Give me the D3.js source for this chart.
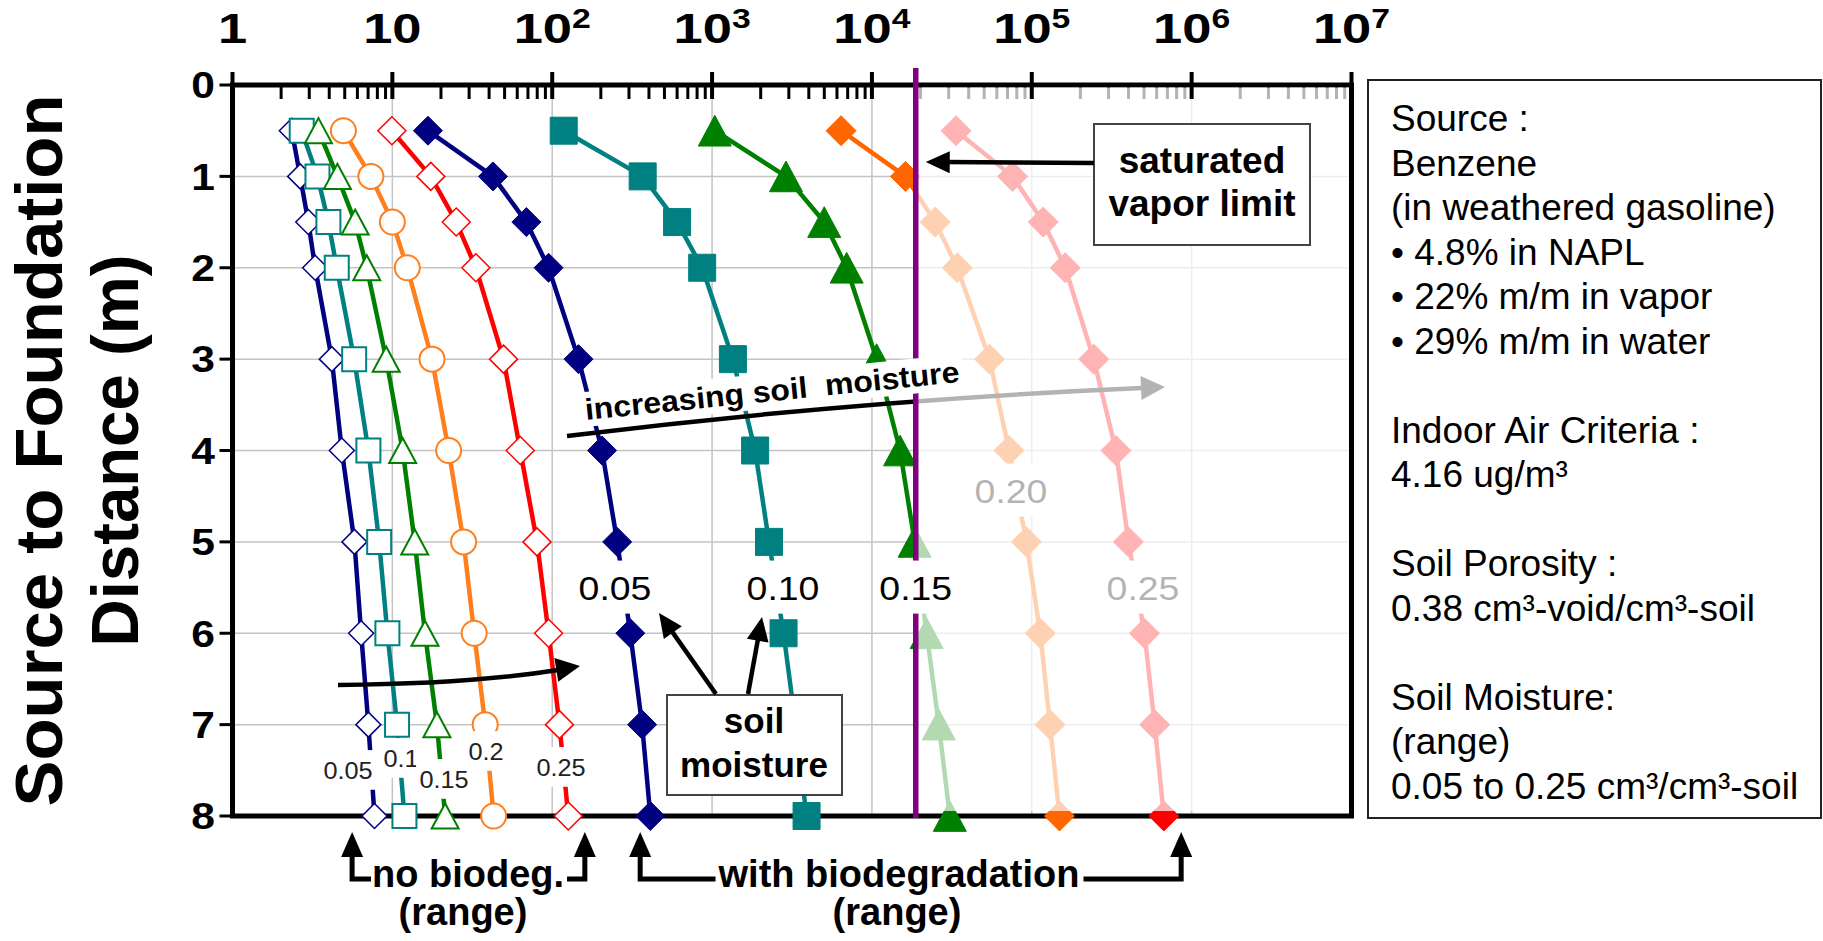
<!DOCTYPE html>
<html>
<head>
<meta charset="utf-8">
<style>
  body { margin: 0; background: #fff; }
  svg text { font-family: "Liberation Sans", Arial, Helvetica, sans-serif; }
</style>
</head>
<body>
<div id="chart"></div>
<script src="https://d3js.org/d3.v7.min.js"></script>
<script>
  // depths (m) below foundation for every profile
  var depths = [0.5, 1, 1.5, 2, 3, 4, 5, 6, 7, 8];

  // soil moisture cases (cm3/cm3)
  var moisture = ["0.05", "0.10", "0.15", "0.20", "0.25"];
  var moistureShort = ["0.05", "0.1", "0.15", "0.2", "0.25"];

  // source vapor concentration, no biodegradation
  var noBio005 = [2.35, 2.65, 2.98, 3.29, 4.18, 4.83, 5.79, 6.38, 7.08, 7.73];
  var noBio010 = [2.71, 3.40, 3.98, 4.49, 5.77, 7.08, 8.27, 9.31, 10.7, 11.9];
  var noBio015 = [3.45, 4.53, 5.85, 6.92, 9.15, 11.6, 13.8, 16.0, 19.0, 21.4];
  var noBio020 = [4.94, 7.34, 10.0, 12.4, 17.7, 22.5, 27.9, 32.5, 38.1, 43.0];
  var noBio025 = [9.93, 17.4, 25.1, 33.3, 49.6, 63.1, 80.3, 94.9, 111, 126];

  // source vapor concentration, with biodegradation
  var bio005 = [16.7, 42.6, 68.9, 94.9, 146, 205, 255, 308, 365, 411];
  var bio010 = [118, 368, 604, 867, 1350, 1860, 2270, 2800, 3330, 3900];
  var bio015 = [1040, 2900, 5030, 6950, 10700, 15000, 18500, 22000, 26200, 30700];
  var bio020 = [6410, 16200, 24900, 34200, 54400, 72000, 92500, 113000, 130000, 149000];
  var bio025 = [33600, 75800, 118000, 162000, 244000, 336000, 402000, 507000, 587000, 670000];

  var vaporLimit = 1.88e4;
  var noBioRange = [5.6, 160];
  var bioRange = [355, 8.6e5];

  var xTicks = [1, 10, 100, 1e3, 1e4, 1e5, 1e6, 1e7];
  var xTickLabels = [["1", ""], ["10", ""], ["10", "2"], ["10", "3"], ["10", "4"], ["10", "5"], ["10", "6"], ["10", "7"]];
  var yTicks = [0, 1, 2, 3, 4, 5, 6, 7, 8];

  var infoLines = ["Source :", "Benzene", "(in weathered gasoline)", "\u2022 4.8% in NAPL",
    "\u2022 22% m/m in vapor", "\u2022 29% m/m in water", "", "Indoor Air Criteria :",
    "4.16 ug/m\u00b3", "", "Soil Porosity :", "0.38 cm\u00b3-void/cm\u00b3-soil", "",
    "Soil Moisture:", "(range)", "0.05 to 0.25 cm\u00b3/cm\u00b3-soil"];

  // styles of the series (kept apart from the values)
  var noBioSeries = [
    { vals: noBio005, color: "#000080", shape: "diamond", r: 12.5, sw: 1.5 },
    { vals: noBio010, color: "#008080", shape: "square", r: 12, sw: 2 },
    { vals: noBio015, color: "#008000", shape: "triangle", r: 13.5, sw: 2 },
    { vals: noBio020, color: "#ff7f1e", shape: "circle", r: 12.5, sw: 2 },
    { vals: noBio025, color: "#ff0000", shape: "diamond", r: 14, sw: 1.5 }
  ];
  var bioSeries = [
    { vals: bio005, color: "#000080", shape: "diamond", r: 14.5 },
    { vals: bio010, color: "#008080", shape: "square", r: 13.5 },
    { vals: bio015, color: "#008000", shape: "triangle", r: 16.5 },
    { vals: bio020, color: "#ff6600", shape: "diamond", r: 15 },
    { vals: bio025, color: "#ff0000", shape: "diamond", r: 15 }
  ];

  var width = 1823, height = 941;
  var plotL = 232.5, plotR = 1351.5, plotT = 85, plotB = 816;

  var x = d3.scaleLog().domain([1, 1e7]).range([plotL, plotR]);
  var y = d3.scaleLinear().domain([0, 8]).range([plotT, plotB]);

  var svg = d3.select("#chart").append("svg")
    .attr("width", width)
    .attr("height", height);

  function shapePath(shape, r) {
    if (shape == "diamond") return "M0," + (-r) + "L" + r + ",0L0," + r + "L" + (-r) + ",0Z";
    if (shape == "square") return "M" + (-r) + "," + (-r) + "h" + 2 * r + "v" + 2 * r + "h" + (-2 * r) + "Z";
    if (shape == "triangle") return "M0," + (-r * 0.93) + "L" + r + "," + r * 0.93 + "L" + (-r) + "," + r * 0.93 + "Z";
    return "M" + (-r) + ",0a" + r + "," + r + " 0 1,0 " + 2 * r + ",0a" + r + "," + r + " 0 1,0 " + (-2 * r) + ",0";
  }

  // text helper: translate / rotate / horizontal stretch, optional white box behind
  function label(parent, str, px, py, o) {
    o = o || {};
    var tr = "translate(" + px + "," + py + ")";
    if (o.rot) tr += " rotate(" + o.rot + ")";
    if (o.sx) tr += " scale(" + o.sx + ",1)";
    var g = parent.append("g").attr("transform", tr);
    var t = g.append("text")
      .attr("text-anchor", o.anchor || "middle")
      .attr("dy", o.dy || 0)
      .style("font-size", o.size + "px")
      .style("font-weight", o.bold ? "bold" : "normal")
      .style("white-space", "pre")
      .attr("fill", o.fill || "#000")
      .text(str);
    if (o.len) t.attr("textLength", o.len).attr("lengthAdjust", "spacingAndGlyphs");
    if (o.bg) {
      var b = t.node().getBBox();
      g.insert("rect", "text")
        .attr("x", b.x - o.bg[0])
        .attr("y", b.y - o.bg[1])
        .attr("width", b.width + 2 * o.bg[0])
        .attr("height", b.height + o.bg[1] + o.bg[2])
        .attr("fill", "#fff");
    }
    return t;
  }

  function head(parent, tx, ty, dx, dy, len, hw, color) {
    var n = Math.sqrt(dx * dx + dy * dy);
    dx /= n;
    dy /= n;
    var bx = tx - dx * len, by = ty - dy * len;
    parent.append("path")
      .attr("d", "M" + tx + "," + ty + "L" + (bx - dy * hw) + "," + (by + dx * hw) +
        "L" + (bx + dy * hw) + "," + (by - dx * hw) + "Z")
      .attr("fill", color || "#000");
  }

  function arrow(parent, x1, y1, x2, y2) {
    var dx = x2 - x1, dy = y2 - y1, n = Math.sqrt(dx * dx + dy * dy);
    parent.append("line")
      .attr("x1", x1).attr("y1", y1)
      .attr("x2", x2 - dx / n * 20).attr("y2", y2 - dy / n * 20)
      .attr("stroke", "#000").attr("stroke-width", 4.5);
    head(parent, x2, y2, dx, dy, 24, 11);
  }

  //****************************
  //***** grid and axes *******
  //****************************
  var g = svg.append("g");

  g.selectAll(".vgrid")
    .data(xTicks.slice(1, -1))
    .enter().append("line")
    .attr("x1", function(d) { return x(d); })
    .attr("x2", function(d) { return x(d); })
    .attr("y1", plotT).attr("y2", plotB)
    .attr("stroke", "#c4c4c4").attr("stroke-width", 1.5);

  g.selectAll(".hgrid")
    .data(yTicks.slice(1, -1))
    .enter().append("line")
    .attr("x1", plotL).attr("x2", plotR)
    .attr("y1", function(d) { return y(d); })
    .attr("y2", function(d) { return y(d); })
    .attr("stroke", "#c4c4c4").attr("stroke-width", 1.5);

  // minor ticks hanging under the top axis
  var minor = x.ticks().filter(function(d) {
    return Math.abs(Math.log10(d) - Math.round(Math.log10(d))) > 1e-6;
  });
  g.append("g")
    .attr("transform", "translate(0," + plotT + ")")
    .call(d3.axisTop(x).tickValues(minor).tickSize(-14).tickFormat(""))
    .call(function(a) {
      a.select(".domain").remove();
      a.selectAll("line").attr("stroke", "#000").attr("stroke-width", 3);
    });

  // plot frame
  g.append("rect")
    .attr("x", plotL).attr("y", plotT)
    .attr("width", plotR - plotL).attr("height", plotB - plotT)
    .attr("fill", "none").attr("stroke", "#000").attr("stroke-width", 5);

  //****************************
  //***** series **************
  //****************************
  function drawSeries(s, open) {
    var line = d3.line()
      .x(function(d, i) { return x(s.vals[i]); })
      .y(function(d) { return y(d); });
    g.append("path")
      .datum(depths)
      .attr("d", line)
      .attr("fill", "none")
      .attr("stroke", s.color)
      .attr("stroke-width", 4.5)
      .attr("stroke-linejoin", "round");
    g.selectAll(null)
      .data(depths)
      .enter().append("path")
      .attr("transform", function(d, i) {
        return "translate(" + x(s.vals[i]) + "," + y(d) + ")";
      })
      .attr("d", shapePath(s.shape, s.r))
      .attr("fill", open ? "#fff" : s.color)
      .attr("stroke", s.color)
      .attr("stroke-width", open ? s.sw : 1);
  }
  noBioSeries.forEach(function(s) { drawSeries(s, true); });
  bioSeries.forEach(function(s) { drawSeries(s, false); });

  // labels that end up under the veil (they turn grey)
  label(g, moisture[3], 1011, 503, { size: 34, sx: 1.1, bg: [4, 9, 6] });
  label(g, moisture[4], 1143, 600, { size: 34, sx: 1.1, bg: [4, 9, 6] });

  // "increasing soil moisture" arrow, drawn before the veil
  g.append("path")
    .attr("d", "M567,436Q860,400 1142,388")
    .attr("fill", "none").attr("stroke", "#000").attr("stroke-width", 4.5);
  head(g, 1165, 387, 282, -12, 24, 12);

  // veil over everything beyond the saturated vapor limit
  g.append("rect")
    .attr("x", x(vaporLimit) + 1)
    .attr("y", plotT + 2.5)
    .attr("width", plotR - 2.5 - x(vaporLimit) - 1)
    .attr("height", 811 - plotT - 2.5)
    .attr("fill", "#fff")
    .attr("opacity", 0.7);

  // major ticks, top and left
  g.selectAll(".major")
    .data(xTicks)
    .enter().append("line")
    .attr("x1", function(d) { return x(d); })
    .attr("x2", function(d) { return x(d); })
    .attr("y1", plotT - 13).attr("y2", plotT + 14)
    .attr("stroke", "#000").attr("stroke-width", 4);

  g.selectAll(".ytick")
    .data(yTicks)
    .enter().append("line")
    .attr("x1", plotL - 13).attr("x2", plotL)
    .attr("y1", function(d) { return y(d); })
    .attr("y2", function(d) { return y(d); })
    .attr("stroke", "#000").attr("stroke-width", 3);

  // saturated vapor limit
  g.append("line")
    .attr("x1", x(vaporLimit)).attr("x2", x(vaporLimit))
    .attr("y1", 68).attr("y2", plotB + 2)
    .attr("stroke", "#800080").attr("stroke-width", 5.5);

  label(g, "increasing soil\u00a0 moisture", 586, 420, { size: 30, bold: true, anchor: "start", rot: -5.8, len: 376, bg: [4, 1, 1] });

  label(g, moisture[0], 615, 600, { size: 34, sx: 1.1, bg: [4, 9, 6] });
  label(g, moisture[1], 783, 600, { size: 34, sx: 1.1, bg: [4, 9, 6] });
  label(g, moisture[2], x(vaporLimit), 600, { size: 34, sx: 1.1, bg: [4, 9, 6] });

  var shortPos = [[348, 779], [401, 767], [444, 788], [486, 760], [561, 776]];
  moistureShort.forEach(function(m, i) {
    label(g, m, shortPos[i][0], shortPos[i][1], { size: 23, sx: 1.1, fill: "#222", bg: [3, 8, 6] });
  });

  //****************************
  //***** call-outs ***********
  //****************************
  g.append("rect")
    .attr("x", 1094).attr("y", 124).attr("width", 216).attr("height", 121)
    .attr("fill", "#fff").attr("stroke", "#444").attr("stroke-width", 2);
  label(g, "saturated", 1202, 173, { size: 37, bold: true });
  label(g, "vapor limit", 1202, 216, { size: 37, bold: true });
  arrow(g, 1094, 163, x(vaporLimit) + 10, 162);

  g.append("rect")
    .attr("x", 667).attr("y", 695).attr("width", 175).attr("height", 100)
    .attr("fill", "#fff").attr("stroke", "#444").attr("stroke-width", 2);
  label(g, "soil", 754, 733, { size: 35, bold: true });
  label(g, "moisture", 754, 777, { size: 35, bold: true });
  arrow(g, 716, 694, 659, 613);
  arrow(g, 748, 694, 762, 617);

  // lower "increasing moisture" arrow
  g.append("path")
    .attr("d", "M338,685Q470,684 558,670")
    .attr("fill", "none").attr("stroke", "#000").attr("stroke-width", 4.5);
  head(g, 580, 666, 87, -14, 24, 12);

  // range brackets under the plot
  var brY = 879;
  function bracket(v, toX) {
    var ax = x(v);
    head(g, ax, 832, 0, -1, 25, 11);
    g.append("path")
      .attr("d", "M" + ax + ",855V" + brY + "H" + toX)
      .attr("fill", "none").attr("stroke", "#000").attr("stroke-width", 5);
  }
  var nb = label(g, "no biodeg.", 468, brY + 8, { size: 38, bold: true });
  label(g, "(range)", 463, brY + 46, { size: 38, bold: true });
  var wb = label(g, "with biodegradation", 899, brY + 8, { size: 38, bold: true });
  label(g, "(range)", 897, brY + 46, { size: 38, bold: true });
  var nbb = nb.node().getBBox(), wbb = wb.node().getBBox();
  bracket(noBioRange[0], 468 + nbb.x - 1);
  bracket(noBioRange[1], 468 + nbb.x + nbb.width + 3);
  bracket(bioRange[0], 899 + wbb.x - 2);
  bracket(bioRange[1], 899 + wbb.x + wbb.width + 4);

  //****************************
  //***** axis labels *********
  //****************************
  xTicks.forEach(function(v, i) {
    var t = label(g, xTickLabels[i][0], x(v), 43, { size: 42, bold: true, sx: 1.25 });
    if (xTickLabels[i][1]) {
      t.append("tspan")
        .attr("dy", -15)
        .style("font-size", "27px")
        .text(xTickLabels[i][1]);
    }
  });

  yTicks.forEach(function(d) {
    label(g, String(d), 215, y(d), { size: 37, bold: true, sx: 1.15, anchor: "end", dy: "0.36em" });
  });

  label(g, "Source to Foundation", 62, (plotT + plotB) / 2, { size: 66, bold: true, rot: -90, len: 712 });
  label(g, "Distance (m)", 138, (plotT + plotB) / 2, { size: 66, bold: true, rot: -90, len: 392 });

  //****************************
  //***** info box ************
  //****************************
  g.append("rect")
    .attr("x", 1368).attr("y", 80).attr("width", 453).attr("height", 738)
    .attr("fill", "#fff").attr("stroke", "#222").attr("stroke-width", 2);

  infoLines.forEach(function(s, i) {
    if (s) label(g, s, 1391, 131 + i * 44.5, { size: 37, anchor: "start" });
  });
</script>
</body>
</html>
